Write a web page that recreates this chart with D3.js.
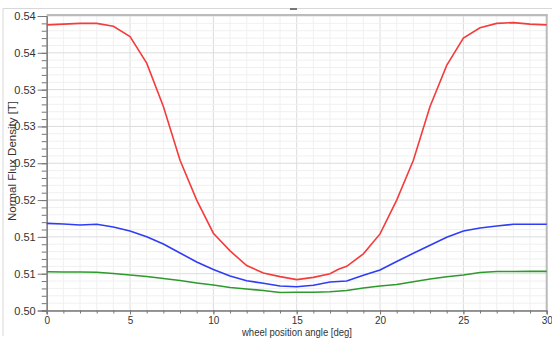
<!DOCTYPE html>
<html><head><meta charset="utf-8">
<script src="https://cdn.jsdelivr.net/npm/d3@7"></script>
<style>body{margin:0;background:#fff}svg{display:block}text{font-family:"Liberation Sans",Arial,sans-serif;fill:#333}</style>
</head><body><svg id="c" width="552" height="339"></svg>
<script>
const angles = d3.range(0, 31);
const redAngles = [0,1,2,3,4,5,6,7,8,9,10,11,12,13,14,15,16,17,17.5,18,19,20,21,22,23,24,25,26,27,28,29,30];
const redValues = [0.5388,0.5389,0.5390,0.5390,0.5386,0.5372,0.5336,0.5277,0.5204,0.5150,0.5105,0.5081,0.5061,0.5051,0.5046,0.5042,0.5045,0.5050,0.5056,0.5060,0.5077,0.5104,0.5150,0.5204,0.5277,0.5333,0.5370,0.5384,0.5390,0.5391,0.5389,0.5388];
const blueValues = [0.51184,0.51175,0.51161,0.51171,0.51134,0.51080,0.51002,0.50903,0.50781,0.50659,0.50557,0.50469,0.50405,0.50369,0.50333,0.50323,0.50342,0.50387,0.50401,0.50478,0.50550,0.50666,0.50777,0.50886,0.50994,0.51080,0.51121,0.51148,0.51171,0.51171,0.51171];
const greenValues = [0.50527,0.50523,0.50523,0.50519,0.50503,0.50482,0.50462,0.50435,0.50407,0.50374,0.50346,0.50312,0.50292,0.50272,0.50244,0.50247,0.50247,0.50254,0.50272,0.50306,0.50333,0.50353,0.50391,0.50428,0.50459,0.50482,0.50516,0.50530,0.50530,0.50532,0.50532];
const yTickValues = [0.500,0.505,0.510,0.515,0.520,0.525,0.530,0.535,0.540];
const yTickLabels = ["0.50","0.51","0.51","0.52","0.52","0.53","0.53","0.54","0.54"];
const xTickValues = [0,5,10,15,20,25,30];
const xTitle = "wheel position angle [deg]";
const yTitle = "Normal Flux Density [T]";

const svg = d3.select("#c");
const L = 46.7, R = 546.7, T = 16, B = 310.5;
const x = d3.scaleLinear().domain([0,30]).range([L,R]);
const y = d3.scaleLinear().domain([0.5,0.54]).range([B,T]);

// outer frame
svg.append("line").attr("x1",3).attr("x2",552).attr("y1",8.5).attr("y2",8.5).attr("stroke","#d8d8d8");
svg.append("line").attr("x1",3).attr("x2",3).attr("y1",8.5).attr("y2",336).attr("stroke","#d8d8d8");
svg.append("rect").attr("x",290).attr("y",8).attr("width",7).attr("height",2).attr("fill","#777");

// grid
const g = svg.append("g");
const xMinor = d3.range(0,31,1), yMinor = d3.range(0,41).map(i=>0.5+i*0.001);
g.selectAll(".vx").data(xMinor).join("line")
  .attr("x1",d=>x(d)).attr("x2",d=>x(d)).attr("y1",T).attr("y2",B)
  .attr("stroke",d=>d%5===0?"#dcdcdc":"#f0f0f0");
g.selectAll(".hy").data(yMinor).join("line")
  .attr("x1",L).attr("x2",R).attr("y1",d=>y(d)).attr("y2",d=>y(d))
  .attr("stroke",(d,i)=>i%5===0?"#dcdcdc":"#f0f0f0");

// borders
svg.append("line").attr("x1",L).attr("x2",R+1).attr("y1",T-1).attr("y2",T-1).attr("stroke","#bbb").attr("stroke-width",2);
svg.append("line").attr("x1",R).attr("x2",R).attr("y1",T-1).attr("y2",B).attr("stroke","#bbb").attr("stroke-width",2);

// axes
const yAxisMinor = d3.axisLeft(y).tickValues(yMinor).tickSize(5).tickFormat("");
const yAxis = d3.axisLeft(y).tickValues(yTickValues).tickSize(9).tickPadding(2).tickFormat((d,i)=>yTickLabels[i]);
const gy1 = svg.append("g").attr("transform",`translate(${L},0)`).call(yAxisMinor);
const gy = svg.append("g").attr("transform",`translate(${L},0)`).call(yAxis);
const xAxisMinor = d3.axisBottom(x).tickValues(xMinor).tickSize(3).tickFormat("");
const xAxis = d3.axisBottom(x).tickValues(xTickValues).tickSize(4).tickPadding(2).tickFormat(d3.format("d"));
const gx1 = svg.append("g").attr("transform",`translate(0,${B})`).call(xAxisMinor);
const gx = svg.append("g").attr("transform",`translate(0,${B})`).call(xAxis);
[gy1,gy,gx1,gx].forEach(a=>{a.selectAll("path").attr("stroke","#777");a.selectAll("line").attr("stroke","#777");a.selectAll("text").attr("fill","#333").style("font-family","'Liberation Sans',Arial,sans-serif");});
gy.selectAll("text").style("font-size","11px");
gx.selectAll("text").style("font-size","10px");

svg.append("text").attr("x",297).attr("y",336).attr("text-anchor","middle").style("font-size","10.5px")
  .attr("textLength",110).attr("lengthAdjust","spacingAndGlyphs").text(xTitle);
svg.append("text").attr("transform","translate(16,161) rotate(-90)").attr("text-anchor","middle").style("font-size","11.5px").text(yTitle);

// lines
const line = d3.line().x(d=>x(d[0])).y(d=>y(d[1]));
const plot = svg.append("g");
plot.append("path").datum(angles.map((a,i)=>[a,greenValues[i]])).attr("d",line).attr("fill","none").attr("stroke","#2e9a2e").attr("stroke-width",1.6);
plot.append("path").datum(angles.map((a,i)=>[a,blueValues[i]])).attr("d",line).attr("fill","none").attr("stroke","#2f3cf5").attr("stroke-width",1.6);
plot.append("path").datum(redAngles.map((a,i)=>[a,redValues[i]])).attr("d",line).attr("fill","none").attr("stroke","#f43c3c").attr("stroke-width",1.6);
</script></body></html>
